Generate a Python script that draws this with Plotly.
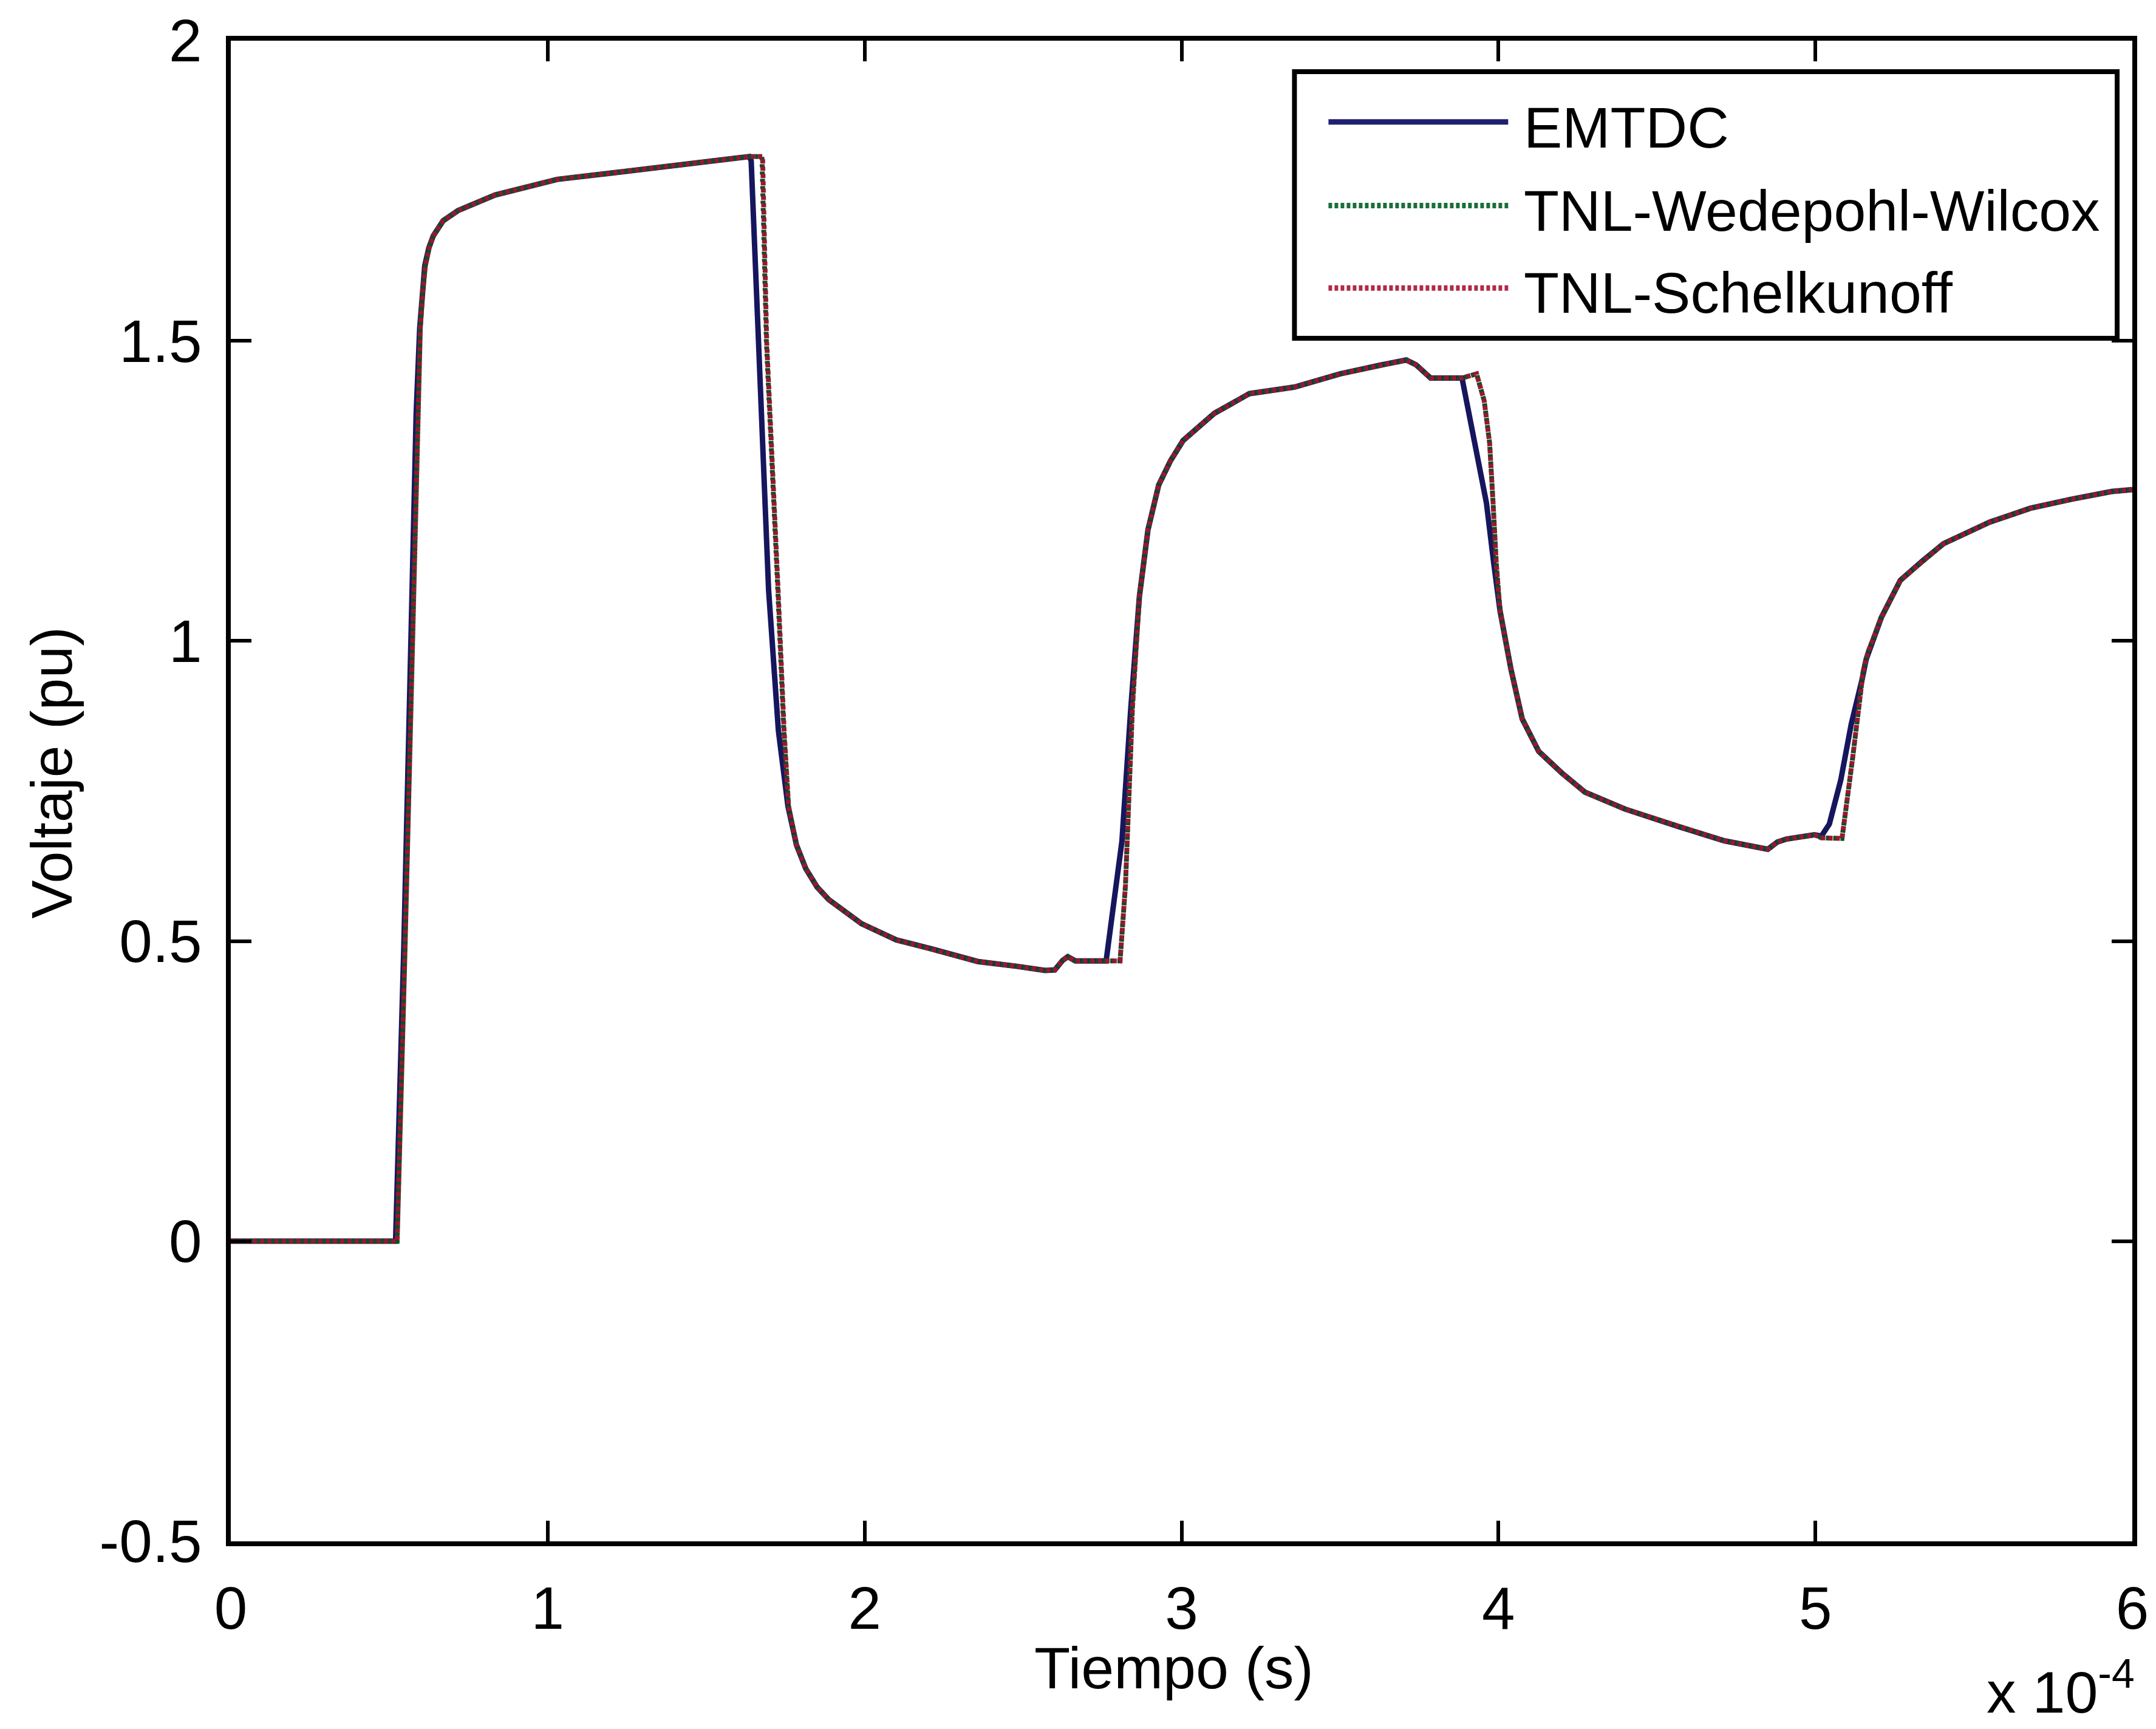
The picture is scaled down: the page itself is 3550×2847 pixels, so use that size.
import plotly.graph_objects as go

# ---- data (time in units of 1e-4 s, voltage in pu) ----
t_emtdc = [0, 0.52, 0.546, 0.570, 0.585, 0.596, 0.604, 0.612, 0.625, 0.639, 0.670, 0.717, 0.834, 1.030, 1.225, 1.421, 1.636,
           1.642, 1.665, 1.697, 1.728, 1.758, 1.785, 1.814, 1.850, 1.887, 1.990, 2.100, 2.211, 2.357,
           2.480, 2.570, 2.600, 2.625, 2.641, 2.665, 2.762,
           2.796, 2.812, 2.840, 2.867, 2.894, 2.928, 2.965, 3.005, 3.103, 3.214, 3.357, 3.500, 3.632,
           3.709, 3.740, 3.786, 3.885,
           3.926, 3.962, 3.985, 4.005, 4.039, 4.075, 4.127, 4.200, 4.273, 4.399, 4.566, 4.713, 4.850,
           4.880, 4.909, 4.997, 5.019,
           5.044, 5.080, 5.113, 5.147, 5.160, 5.208, 5.268, 5.335, 5.404, 5.550, 5.678, 5.807, 5.935, 6.0]
v_emtdc = [0, 0, 0.49, 1.00, 1.38, 1.52, 1.585, 1.625, 1.655, 1.675, 1.700, 1.717, 1.743, 1.769, 1.781, 1.794, 1.807,
           1.800, 1.498, 1.085, 0.850, 0.725, 0.660, 0.621, 0.590, 0.569, 0.529, 0.502, 0.487, 0.466,
           0.458, 0.451, 0.452, 0.468, 0.474, 0.467, 0.467,
           0.593, 0.667, 0.889, 1.074, 1.185, 1.260, 1.300, 1.334, 1.379, 1.412, 1.423, 1.445, 1.460,
           1.468, 1.460, 1.438, 1.438,
           1.330, 1.230, 1.130, 1.050, 0.954, 0.870, 0.816, 0.780, 0.748, 0.720, 0.691, 0.667, 0.653,
           0.665, 0.670, 0.677, 0.675,
           0.695, 0.768, 0.861, 0.935, 0.969, 1.039, 1.101, 1.132, 1.162, 1.198, 1.221, 1.236, 1.249, 1.252]

t_wedepohl = [0, 0.525, 0.550, 0.573, 0.588, 0.598, 0.606, 0.614, 0.626, 0.639, 0.670, 0.717, 0.834, 1.030, 1.225, 1.421, 1.636,
              1.676, 1.690, 1.726, 1.745, 1.760, 1.785, 1.814, 1.850, 1.887, 1.990, 2.100, 2.211, 2.357,
              2.480, 2.570, 2.600, 2.625, 2.641, 2.665, 2.762,
              2.806, 2.823, 2.829, 2.845, 2.867, 2.894, 2.928, 2.965, 3.005, 3.103, 3.214, 3.357, 3.500, 3.632,
              3.709, 3.740, 3.786, 3.885,
              3.931, 3.955, 3.972, 3.983, 3.993, 4.005, 4.039, 4.075, 4.127, 4.200, 4.273, 4.399, 4.566, 4.713, 4.850,
              4.880, 4.909, 4.997, 5.019,
              5.084, 5.118, 5.151, 5.165, 5.208, 5.268, 5.335, 5.404, 5.550, 5.678, 5.807, 5.935, 6.0]
v_wedepohl = [0, 0, 0.49, 1.00, 1.38, 1.52, 1.585, 1.625, 1.655, 1.675, 1.700, 1.717, 1.743, 1.769, 1.781, 1.794, 1.807,
              1.807, 1.498, 1.085, 0.850, 0.725, 0.660, 0.621, 0.590, 0.569, 0.529, 0.502, 0.487, 0.466,
              0.458, 0.451, 0.452, 0.468, 0.474, 0.467, 0.467,
              0.467, 0.593, 0.667, 0.889, 1.074, 1.185, 1.260, 1.300, 1.334, 1.379, 1.412, 1.423, 1.445, 1.460,
              1.468, 1.460, 1.438, 1.438,
              1.445, 1.400, 1.330, 1.230, 1.130, 1.050, 0.954, 0.870, 0.816, 0.780, 0.748, 0.720, 0.691, 0.667, 0.653,
              0.665, 0.670, 0.677, 0.672,
              0.671, 0.807, 0.950, 0.980, 1.039, 1.101, 1.132, 1.162, 1.198, 1.221, 1.236, 1.249, 1.252]

t_schelkunoff = [0, 0.525, 0.550, 0.573, 0.588, 0.598, 0.606, 0.614, 0.626, 0.639, 0.670, 0.717, 0.834, 1.030, 1.225, 1.421, 1.636,
                 1.678, 1.691, 1.727, 1.746, 1.760, 1.785, 1.814, 1.850, 1.887, 1.990, 2.100, 2.211, 2.357,
                 2.480, 2.570, 2.600, 2.625, 2.641, 2.665, 2.762,
                 2.806, 2.823, 2.829, 2.845, 2.867, 2.894, 2.928, 2.965, 3.005, 3.103, 3.214, 3.357, 3.500, 3.632,
                 3.709, 3.740, 3.786, 3.885,
                 3.931, 3.955, 3.972, 3.983, 3.993, 4.005, 4.039, 4.075, 4.127, 4.200, 4.273, 4.399, 4.566, 4.713, 4.850,
                 4.880, 4.909, 4.997, 5.019,
                 5.084, 5.118, 5.151, 5.165, 5.208, 5.268, 5.335, 5.404, 5.550, 5.678, 5.807, 5.935, 6.0]
v_schelkunoff = [0, 0, 0.49, 1.00, 1.38, 1.52, 1.585, 1.625, 1.655, 1.675, 1.700, 1.717, 1.743, 1.769, 1.781, 1.794, 1.807,
                 1.807, 1.498, 1.085, 0.850, 0.725, 0.660, 0.621, 0.590, 0.569, 0.529, 0.502, 0.487, 0.466,
                 0.458, 0.451, 0.452, 0.468, 0.474, 0.467, 0.467,
                 0.467, 0.593, 0.667, 0.889, 1.074, 1.185, 1.260, 1.300, 1.334, 1.379, 1.412, 1.423, 1.445, 1.460,
                 1.468, 1.460, 1.438, 1.438,
                 1.445, 1.400, 1.330, 1.230, 1.130, 1.050, 0.954, 0.870, 0.816, 0.780, 0.748, 0.720, 0.691, 0.667, 0.653,
                 0.665, 0.670, 0.677, 0.672,
                 0.671, 0.807, 0.950, 0.980, 1.039, 1.101, 1.132, 1.162, 1.198, 1.221, 1.236, 1.249, 1.252]

series_names = ["EMTDC", "TNL-Wedepohl-Wilcox", "TNL-Schelkunoff"]
x_tickvals = [0, 1, 2, 3, 4, 5, 6]
x_ticktext = ["0", "1", "2", "3", "4", "5", "6"]
y_tickvals = [-0.5, 0, 0.5, 1, 1.5, 2]
y_ticktext = ["-0.5", "0", "0.5", "1", "1.5", "2"]

# ---- styling ----
FONT = "Liberation Sans, Arial, Helvetica, sans-serif"
colors = ["#16165e", "#0c4f26", "#96182f"]
dashes = ["solid", "0px,7px,5px,0px", "7px,5px"]
widths = [9, 8, 8]

W, H = 3550, 2847
L, R, T, B = 380, 38, 62, 309
pw, ph = W - L - R, H - T - B


def px(xp):
    return (xp - L) / pw


def py(yp):
    return (H - B - yp) / ph


fig = go.Figure()
data = [(t_emtdc, v_emtdc), (t_wedepohl, v_wedepohl), (t_schelkunoff, v_schelkunoff)]
for (tx, vy), name, c, d, w in zip(data, series_names, colors, dashes, widths):
    fig.add_trace(go.Scatter(x=tx, y=vy, mode="lines", name=name,
                             line=dict(color=c, width=w, dash=d), showlegend=False))

axis_common = dict(showline=True, linecolor="black", linewidth=8, mirror="ticks",
                   ticks="inside", ticklen=34, tickwidth=6, tickcolor="black",
                   showgrid=False, zeroline=False,
                   tickfont=dict(family=FONT, size=98, color="black"))

fig.update_xaxes(range=[0, 6], tickvals=x_tickvals, ticktext=x_ticktext,
                 ticklabelstandoff=18, **axis_common)
fig.update_yaxes(range=[-0.5, 2], tickvals=y_tickvals, ticktext=y_ticktext,
                 ticklabelstandoff=20, **axis_common)

# legend box (drawn manually to reproduce the long sample lines)
legend_colors = ["#20206e", "#1a6e3a", "#b02a48"]
legend_dashes = ["solid", "6px,4px", "6px,4px"]
shapes = [dict(type="rect", xref="paper", yref="paper",
               x0=px(2132), x1=px(3487), y0=py(553), y1=py(113),
               line=dict(color="black", width=8), fillcolor="white", layer="above")]
annotations = []
row_line_y = [196, 334, 470]
row_text_y = [205, 343, 478]
for name, c, d, ly, ty in zip(series_names, legend_colors, legend_dashes, row_line_y, row_text_y):
    shapes.append(dict(type="line", xref="paper", yref="paper",
                       x0=px(2188), x1=px(2484), y0=py(ly), y1=py(ly),
                       line=dict(color=c, width=9, dash=d), layer="above"))
    annotations.append(dict(text=name, xref="paper", yref="paper", x=px(2508), y=py(ty),
                            xanchor="left", yanchor="middle", showarrow=False,
                            font=dict(family=FONT, size=95, color="black")))

annotations += [
    dict(text="Voltaje (pu)", xref="paper", yref="paper", x=px(84), y=py(1270),
         xanchor="center", yanchor="middle", textangle=-90, showarrow=False,
         font=dict(family=FONT, size=95, color="black")),
    dict(text="Tiempo (s)", xref="paper", yref="paper", x=px(1933), y=py(2747),
         xanchor="center", yanchor="middle", showarrow=False,
         font=dict(family=FONT, size=97, color="black")),
    dict(text="x 10<sup>-4</sup>", xref="paper", yref="paper", x=px(3518), y=py(2780),
         xanchor="right", yanchor="middle", showarrow=False,
         font=dict(family=FONT, size=97, color="black")),
]

fig.update_layout(width=W, height=H, margin=dict(l=L, r=R, t=T, b=B, pad=0),
                  paper_bgcolor="white", plot_bgcolor="white",
                  showlegend=False, shapes=shapes, annotations=annotations,
                  font=dict(family=FONT, size=96, color="black"))

fig.write_html("out.html")
